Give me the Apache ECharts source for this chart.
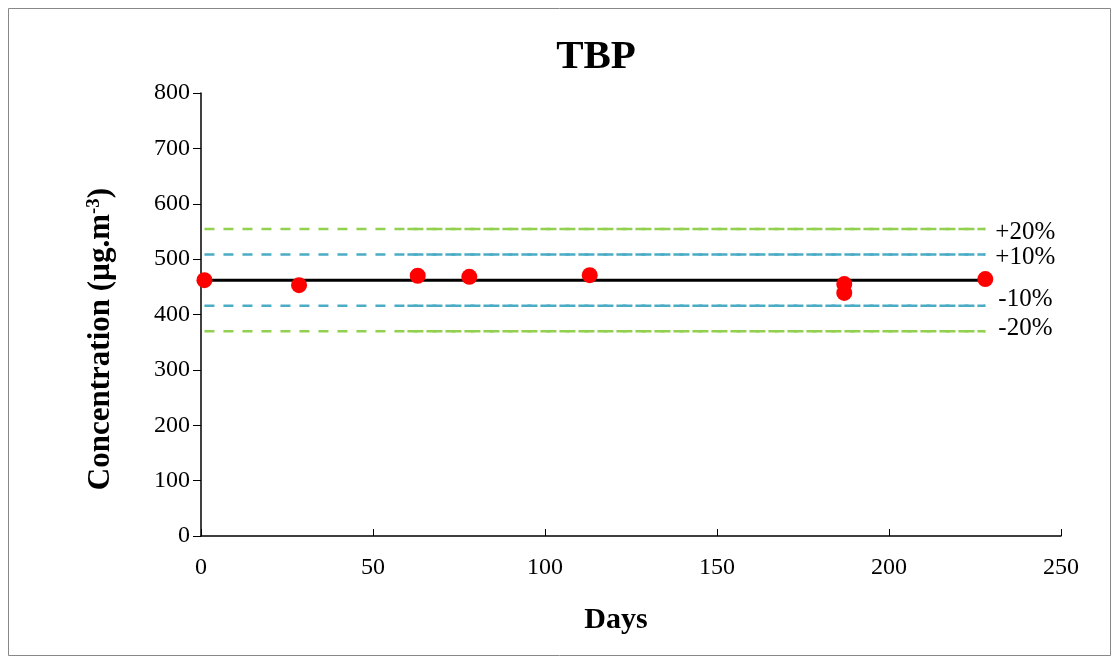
<!DOCTYPE html>
<html><head><meta charset="utf-8">
<script src="https://cdn.jsdelivr.net/npm/echarts@6/dist/echarts.min.js"></script>
<style>html,body{margin:0;padding:0;background:#fff}#c{width:1120px;height:662px}</style>
</head><body><div id="c"></div>
<script>
const days = [1, 28.5, 63, 78, 113, 187, 187, 228];
const conc = [462, 453, 470, 468, 471, 455, 439, 464];
const meanValue = 462;
const lineStart = 1;
const lineEnd = 228;
const overlapStart = 60;
const bandLabels = ['+20%', '+10%', '-10%', '-20%'];
const bandFactors = [1.2, 1.1, 0.9, 0.8];
const xTicks = [0, 50, 100, 150, 200, 250];
const yTicks = [0, 100, 200, 300, 400, 500, 600, 700, 800];
const yAxisTitle = 'Concentration (µg.m';
const yAxisTitleSup = '-3';

const font = '"Liberation Serif", "Times New Roman", serif';
const bandColors = ['#92d050', '#4bacc6', '#4bacc6', '#92d050'];
const labelOffsets = [[10, 3], [10, 3], [13, -6], [13, -3]];

const series = [];
bandFactors.forEach((f, i) => {
  const v = meanValue * f;
  const ls = {color: bandColors[i], width: 2.5, type: [10, 9]};
  series.push({type: 'line', data: [[lineStart, v], [lineEnd, v]], symbol: 'none', lineStyle: ls, silent: true, z: 2});
  series.push({type: 'line', data: [[overlapStart, v], [lineEnd, v]], symbol: 'none', lineStyle: ls, silent: true, z: 2});
  series.push({type: 'scatter', data: [[lineEnd, v]], symbolSize: 0, silent: true, z: 4,
    itemStyle: {opacity: 1, color: '#000'},
    label: {show: true, position: 'right', distance: 0, offset: labelOffsets[i], formatter: bandLabels[i],
      fontFamily: font, fontSize: 25, color: '#000', opacity: 1}});
});
series.push({type: 'line', data: [[lineStart, meanValue], [lineEnd, meanValue]], symbol: 'none', lineStyle: {color: '#000', width: 3}, silent: true, z: 3});
series.push({type: 'scatter', data: days.map((d, i) => [d, conc[i]]), symbol: 'circle', symbolSize: 16, itemStyle: {color: '#ff0000', opacity: 1}, z: 5});

const chart = echarts.init(document.getElementById('c'), null, {renderer: 'canvas'});
chart.setOption({
  animation: false,
  backgroundColor: '#fff',
  title: {text: 'TBP', left: 591, top: 32, textAlign: 'center', textStyle: {fontFamily: font, fontSize: 41, fontWeight: 'bold', color: '#000'}},
  grid: {left: 201, right: 59, top: 93, bottom: 126},
  xAxis: {type: 'value', min: 0, max: 250, interval: 50,
    name: 'Days', nameLocation: 'middle', nameGap: 69,
    nameTextStyle: {fontFamily: font, fontSize: 30, fontWeight: 'bold', color: '#000', padding: [0, 30, 0, 0]},
    axisLine: {show: true, lineStyle: {color: '#000', width: 1.5}},
    axisTick: {show: true, inside: true, length: 7, lineStyle: {color: '#000'}},
    axisLabel: {fontFamily: font, fontSize: 24, color: '#000', margin: 20},
    splitLine: {show: false}},
  yAxis: {type: 'value', min: 0, max: 800, interval: 100,
    axisLine: {show: true, lineStyle: {color: '#000', width: 1.5}},
    axisTick: {show: true, inside: false, length: 8, lineStyle: {color: '#000'}},
    axisLabel: {fontFamily: font, fontSize: 24, color: '#000', margin: 11},
    splitLine: {show: false}},
  graphic: [
    {type: 'rect', shape: {x: 8.5, y: 8.5, width: 1102, height: 647}, style: {fill: 'none', stroke: '#888', lineWidth: 1}, silent: true},
    {type: 'text', x: 101, y: 339, rotation: Math.PI / 2, silent: true,
      style: {text: '{b|' + yAxisTitle + '}{s|' + yAxisTitleSup + '}{b|)}', align: 'center', verticalAlign: 'middle',
        rich: {b: {fontFamily: font, fontSize: 31, fontWeight: 'bold', fill: '#000', color: '#000'},
               s: {fontFamily: font, fontSize: 19, fontWeight: 'bold', fill: '#000', color: '#000', verticalAlign: 'top', padding: [0, 0, 14, 0]}}}}
  ],
  series: series
});
</script></body></html>
